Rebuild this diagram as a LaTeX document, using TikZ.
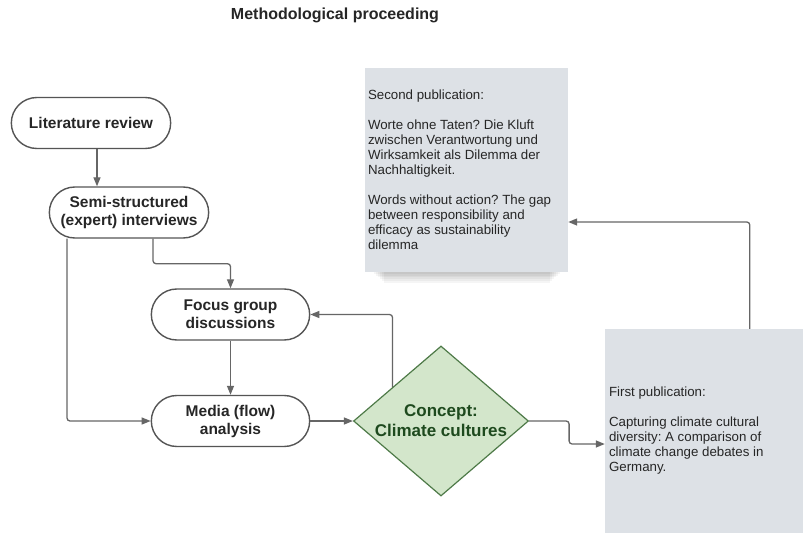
\documentclass[tikz,border=0pt]{standalone}
\usepackage{fontspec}
\setmainfont{Liberation Sans}
\usetikzlibrary{shapes.misc,shapes.geometric,arrows.meta,calc}
\definecolor{edgegray}{HTML}{666666}
\definecolor{bordergray}{HTML}{555555}
\definecolor{boxgray}{HTML}{DDE1E6}
\definecolor{leaf}{HTML}{D3E6CB}
\definecolor{leafdark}{HTML}{4E7A48}
\definecolor{leaftext}{HTML}{1E4A1E}
\frenchspacing
\begin{document}
\begin{tikzpicture}[x=1pt,y=-1pt,
  stadium/.style={rounded rectangle, draw=bordergray, line width=1.4pt, fill=white,
    minimum width=166pt, minimum height=51pt, align=center,
    font=\fontsize{15.5}{18}\selectfont\bfseries, text=black!85},
  pubbox/.style={rectangle, fill=boxgray, minimum width=203pt, minimum height=204pt, inner sep=0pt},
  pubtext/.style={anchor=west, inner sep=0pt, align=left,
    font=\fontsize{13.3}{15}\selectfont, text=black!85},
  concept/.style={diamond, draw=leafdark, line width=1.2pt, fill=leaf,
    minimum width=175pt, minimum height=150pt, inner sep=0pt, aspect=1.17,
    align=center, font=\fontsize{17}{20}\selectfont\bfseries, text=leaftext},
  arr/.style={draw=edgegray, line width=1.3pt, rounded corners=3pt,
    -{Triangle[length=9pt,width=7pt]}}]
\clip (0,0) rectangle (803,535);
\fill[white] (0,0) rectangle (803,535);

\node[font=\fontsize{16}{18}\selectfont\bfseries, text=black!85] (title) at (335,15) {Methodological proceeding};

% shadow under the second publication box
\foreach \i in {1,...,6}{
  \fill[black, opacity=0.04] (372+\i*2, 266) rectangle (562-\i*2, 272+\i*1.8);
}
\node[pubbox] (second) at (466.5,170) {};
\node[pubtext] (secondtext) at ([xshift=3pt]second.west) {Second publication:\\[15pt]Worte ohne Taten? Die Kluft\\zwischen Verantwortung und\\Wirksamkeit als Dilemma der\\Nachhaltigkeit.\\[15pt]Words without action? The gap\\between responsibility and\\efficacy as sustainability\\dilemma};
\node[pubbox] (first) at (706.5,431) {};
\node[pubtext] (firsttext) at ([xshift=4pt]first.west) {First publication:\\[15pt]Capturing climate cultural\\diversity: A comparison of\\climate change debates in\\Germany.};

\node[stadium] (lit) at (91,123) {Literature review};
\node[stadium] (semi) at (129,212.5) {Semi-structured\\(expert) interviews};
\node[stadium, minimum width=165pt] (focus) at (230.5,314.5) {Focus group\\discussions};
\node[stadium, minimum width=165pt] (media) at (230.5,421) {Media (flow)\\analysis};
\node[concept] (cc) at (441,421) {Concept:\\Climate cultures};

\draw[arr] ([xshift=6pt]lit.south) -- ([xshift=6pt]lit.south |- semi.north);
\draw[arr] ([xshift=-62pt]semi.south) |- (media.west);
\draw[arr] ([xshift=24pt]semi.south) -- ++(0,25) -| (focus.north);
\draw[arr] (focus.south) -- (media.north);
\draw[arr] (media.east) -- (cc.west);
\draw[arr] ($(cc.west)!0.45!(cc.north)$) |- (focus.east);
\draw[arr] (cc.east) -- ++(40,0) |- ($(first.west)+(0,13)$);
\draw[arr] ($(first.north west)+(145,0)$) |- ($(second.east)+(0,52)$);
\end{tikzpicture}
\end{document}
